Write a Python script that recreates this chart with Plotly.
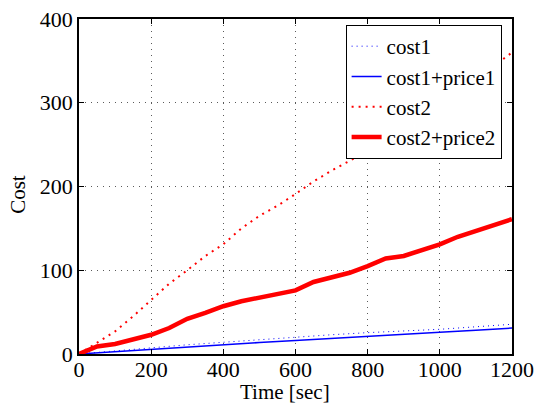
import plotly.graph_objects as go

# Time samples (sec)
time_red = [0, 50, 100, 150, 200, 250, 300, 350, 400, 450, 500, 550, 600,
            650, 700, 750, 800, 850, 900, 950, 1000, 1050, 1100, 1150, 1200]
cost2 = [0, 14, 27, 45, 64, 84, 100, 117, 131, 150, 165, 177, 191,
         206, 219, 231, 243, 254, 268, 283, 298, 313, 329, 344, 360]
cost2_price2 = [0, 9, 12, 17, 23, 31, 42, 49, 57, 63, 67, 71, 76,
                86, 91, 97, 105, 114, 117, 124, 131, 140, 147, 153, 161]

time_blue = [0, 100, 200, 300, 400, 500, 600, 700, 800, 900, 1000, 1100, 1200]
cost1 = [0, 3.8, 7.6, 11, 14, 17.3, 20.5, 23, 25.5, 27.5, 29.5, 32.5, 35.5]
cost1_price1 = [0, 2.8, 5.6, 8.5, 11.5, 13.7, 16, 18.3, 20.7, 23.3, 26, 28.5, 31]

x_ticks = [0, 200, 400, 600, 800, 1000, 1200]
y_ticks = [0, 100, 200, 300, 400]

FONT = "Liberation Serif, Times New Roman, Times, serif"

fig = go.Figure()
fig.add_trace(go.Scatter(x=time_blue, y=cost1, mode="lines", name="cost1",
                         line=dict(color="blue", width=1, dash="1px,4px")))
fig.add_trace(go.Scatter(x=time_blue, y=cost1_price1, mode="lines", name="cost1+price1",
                         line=dict(color="blue", width=1.5)))
fig.add_trace(go.Scatter(x=time_red, y=cost2, mode="lines", name="cost2",
                         line=dict(color="red", width=2, dash="2px,5px")))
fig.add_trace(go.Scatter(x=time_red, y=cost2_price2, mode="lines", name="cost2+price2",
                         line=dict(color="red", width=4.5)))

axis_common = dict(
    showline=True, linecolor="black", linewidth=1.5, mirror="ticks",
    ticks="inside", ticklen=5, tickcolor="black",
    showgrid=True, gridcolor="rgb(90,90,90)", griddash="1px,5px", gridwidth=1,
    zeroline=False, automargin=False,
    tickfont=dict(family=FONT, size=22, color="black"),
)

fig.update_layout(
    width=540, height=405,
    margin=dict(l=79, r=28, t=19, b=51),
    paper_bgcolor="white", plot_bgcolor="white",
    font=dict(family=FONT, size=22, color="black"),
    xaxis=dict(range=[0, 1200], tickvals=x_ticks, ticktext=[str(v) for v in x_ticks],
               ticklabelstandoff=-5, **axis_common),
    yaxis=dict(range=[0, 400], tickvals=y_ticks, ticktext=[str(v) for v in y_ticks],
               **axis_common),
    legend=dict(x=0.976, y=0.982, xanchor="right", yanchor="top",
                bordercolor="black", borderwidth=1, bgcolor="white",
                font=dict(family=FONT, size=21, color="black"),
                tracegroupgap=0, itemwidth=30),
    showlegend=True,
    annotations=[
        dict(text="Time [sec]", xref="paper", yref="paper", x=0.476, y=-0.113,
             xanchor="center", yanchor="middle", showarrow=False,
             font=dict(family=FONT, size=21, color="black")),
        dict(text="Cost", xref="paper", yref="paper", x=-0.141, y=0.478,
             xanchor="center", yanchor="middle", showarrow=False, textangle=-90,
             font=dict(family=FONT, size=21, color="black")),
    ],
)

fig.write_html("out.html", config={"displayModeBar": False},
               post_script="document.body.style.margin='0';document.body.style.overflow='hidden';")
